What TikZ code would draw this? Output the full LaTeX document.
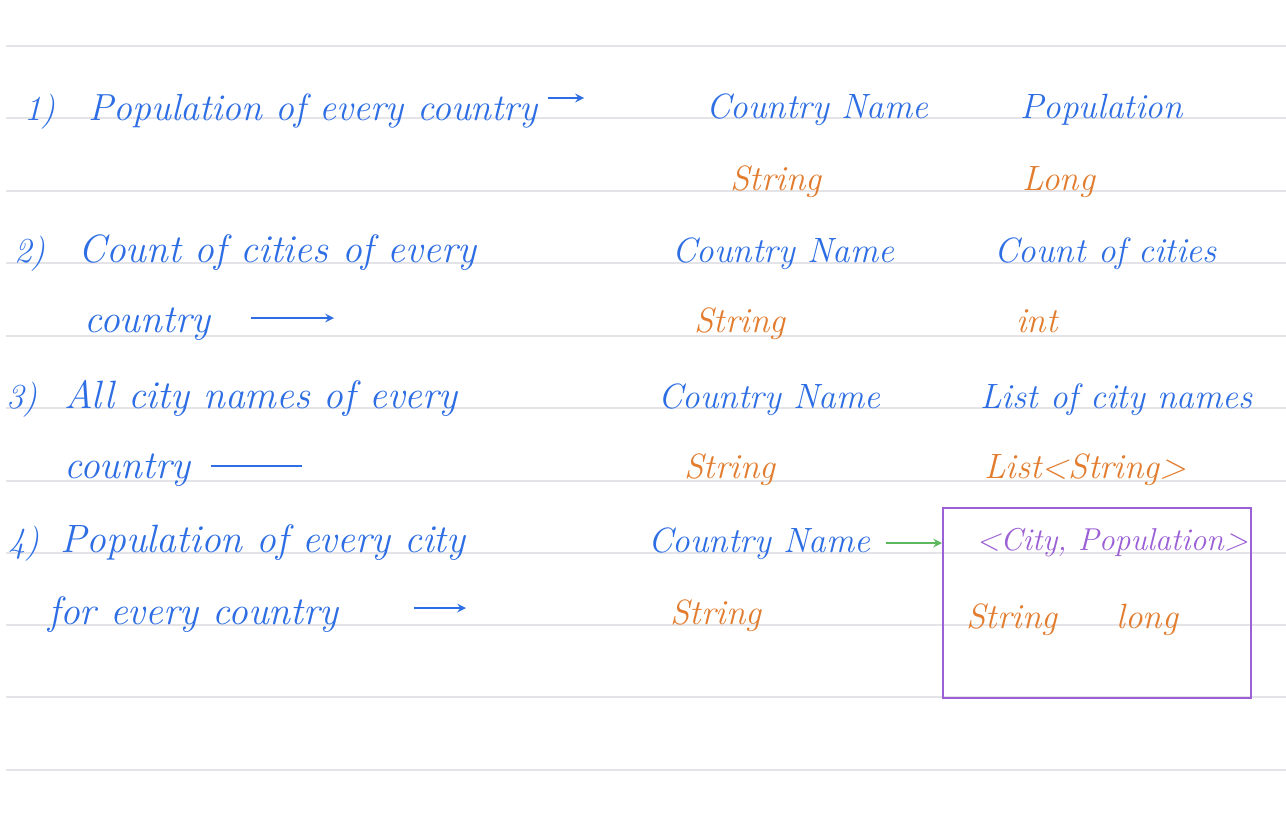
\documentclass[tikz,border=0pt]{standalone}
\usepackage{tikz}
\usetikzlibrary{positioning}

\definecolor{inkblue}{RGB}{46,110,228}
\definecolor{inkorange}{RGB}{226,124,46}
\definecolor{inkpurple}{RGB}{155,95,214}
\definecolor{inkgreen}{RGB}{92,184,90}
\definecolor{rulegray}{RGB}{228,228,232}

\begin{document}
\begin{tikzpicture}[x=0.02cm,y=-0.02cm,>=stealth,
      hand/.style={font=\fontsize{20}{24}\selectfont\itshape,inner sep=0pt,anchor=base west},
      big hand/.style={hand,font=\fontsize{22.5}{26}\selectfont\itshape},
      blue text/.style={hand,text=inkblue},
      question/.style={big hand,text=inkblue},
      type text/.style={hand,text=inkorange},
      pair text/.style={hand,text=inkpurple,font=\fontsize{18}{22}\selectfont\itshape},
      ink arrow/.style={->,line width=1.2pt,inkblue}]
      \useasboundingbox[fill=white] (0,0) rectangle (1286,835);

      % ruled paper
      \foreach \y in {46,118,191,263,336,408,481,553,625,697,770}
        \draw[rulegray,line width=1.2pt] (6,\y) -- (1286,\y);

      % questions
      \node[blue text] (n1) at (24,120) {1)};
      \node[question,font=\fontsize{21.5}{25}\selectfont\itshape] (q1) at (88,120) {Population of every country};
      \node[blue text] (n2) at (14,262) {2)};
      \node[question] (q2) at (78,262) {Count of cities of every};
      \node[question] (q2b) at (84,332) {country};
      \node[blue text] (n3) at (6,408) {3)};
      \node[question] (q3) at (64,408) {All city names of every};
      \node[question] (q3b) at (64,478) {country};
      \node[blue text] (n4) at (8,552) {4)};
      \node[question] (q4) at (60,552) {Population of every city};
      \node[question] (q4b) at (48,624) {for every country};

      % keys
      \node[blue text] (k1) at (706,118) {Country Name};
      \node[type text] (kt1) at (730,190) {String};
      \node[blue text] (k2) at (672,262) {Country Name};
      \node[type text] (kt2) at (694,332) {String};
      \node[blue text] (k3) at (658,408) {Country Name};
      \node[type text] (kt3) at (684,478) {String};
      \node[blue text] (k4) at (648,552) {Country Name};
      \node[type text] (kt4) at (670,624) {String};

      % values
      \node[blue text] (v1) at (1020,118) {Population};
      \node[type text] (vt1) at (1022,190) {Long};
      \node[blue text] (v2) at (994,262) {Count of cities};
      \node[type text] (vt2) at (1016,332) {int};
      \node[blue text] (v3) at (980,408) {List of city names};
      \node[type text] (vt3) at (984,478) {List<String>};

      % pair value in a box
      \node[draw=inkpurple,line width=1.2pt,minimum width=6.16cm,minimum height=3.8cm,
            inner sep=0pt,anchor=north west] (box) at (942,507) {};
      \node[pair text] (p4) at (976,550) {<City, Population>};
      \node[type text] (pt4a) at (966,628) {String};
      \node[type text] (pt4b) at (1116,628) {long};

      % arrows
      \coordinate (e1) at (584,98);
      \coordinate (e2) at (334,318);
      \coordinate (e3) at (302,466);
      \coordinate (e4) at (466,608);
      \draw[ink arrow] ([xshift=0.2cm]q1.east |- e1) -- (e1);
      \draw[ink arrow] ([xshift=0.8cm]q2b.east |- e2) -- (e2);
      \draw[line width=1.2pt,inkblue] ([xshift=0.4cm]q3b.east |- e3) -- (e3);
      \draw[ink arrow] ([xshift=1.5cm]q4b.east |- e4) -- (e4);
      \draw[->,line width=1.2pt,inkgreen] ([xshift=0.3cm]k4.east |- 0,543) -- (box.west |- 0,543);
\end{tikzpicture}
\end{document}
